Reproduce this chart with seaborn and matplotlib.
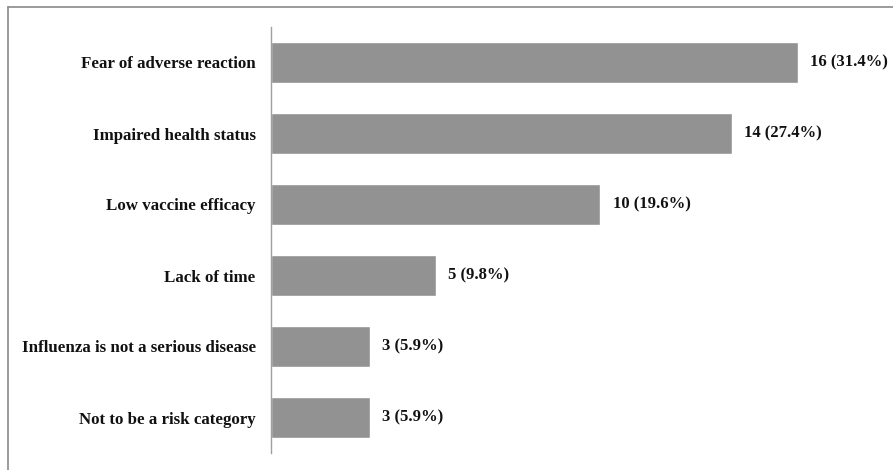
import matplotlib
matplotlib.use("Agg")
import matplotlib.pyplot as plt
import seaborn as sns
import pandas as pd
from matplotlib.lines import Line2D

categories = [
    "Fear of adverse reaction",
    "Impaired health status",
    "Low vaccine efficacy",
    "Lack of time",
    "Influenza is not a serious disease",
    "Not to be a risk category",
]
counts = [16, 14, 10, 5, 3, 3]
percents = ["31.4%", "27.4%", "19.6%", "9.8%", "5.9%", "5.9%"]
value_labels = [f"{c} ({p})" for c, p in zip(counts, percents)]

sns.set_theme(style="white")
plt.rcParams["font.family"] = ["Liberation Serif", "DejaVu Serif"]

df = pd.DataFrame({"reason": categories, "count": counts})

fig = plt.figure(figsize=(8.93, 4.70), dpi=100)
ax = fig.add_axes([271 / 893, 1 - 453 / 470, (880 - 271) / 893, 426 / 470])

sns.barplot(data=df, y="reason", x="count", orient="h", color="#929292",
            saturation=1, width=0.565, ax=ax)

texts = ax.bar_label(ax.containers[0], labels=value_labels, padding=9,
                     fontsize=12, fontweight="bold", color="#111111")
for t in texts:
    t.set_va("center")
    t.set_y(t.get_position()[1])

ax.set_xlim(0, 18.5)
ax.set_ylim(5.5, -0.5)
ax.set_xlabel("")
ax.set_ylabel("")
ax.set_xticks([])
ax.tick_params(axis="y", length=0, pad=11)
for lab in ax.get_yticklabels():
    lab.set_fontsize(12.2)
    lab.set_fontweight("bold")
    lab.set_color("#111111")

for s in ["top", "right", "bottom"]:
    ax.spines[s].set_visible(False)
ax.spines["left"].set_color("#a0a0a0")
ax.spines["left"].set_linewidth(1.0)

# partial frame around figure (top and left)
fig.add_artist(Line2D([8 / 893, 1.0], [1 - 7 / 470, 1 - 7 / 470],
                      transform=fig.transFigure, color="#8a8a8a", lw=1.2))
fig.add_artist(Line2D([8 / 893, 8 / 893], [0.0, 1 - 7 / 470],
                      transform=fig.transFigure, color="#8a8a8a", lw=1.2))

fig.savefig("out.png", dpi=100)
